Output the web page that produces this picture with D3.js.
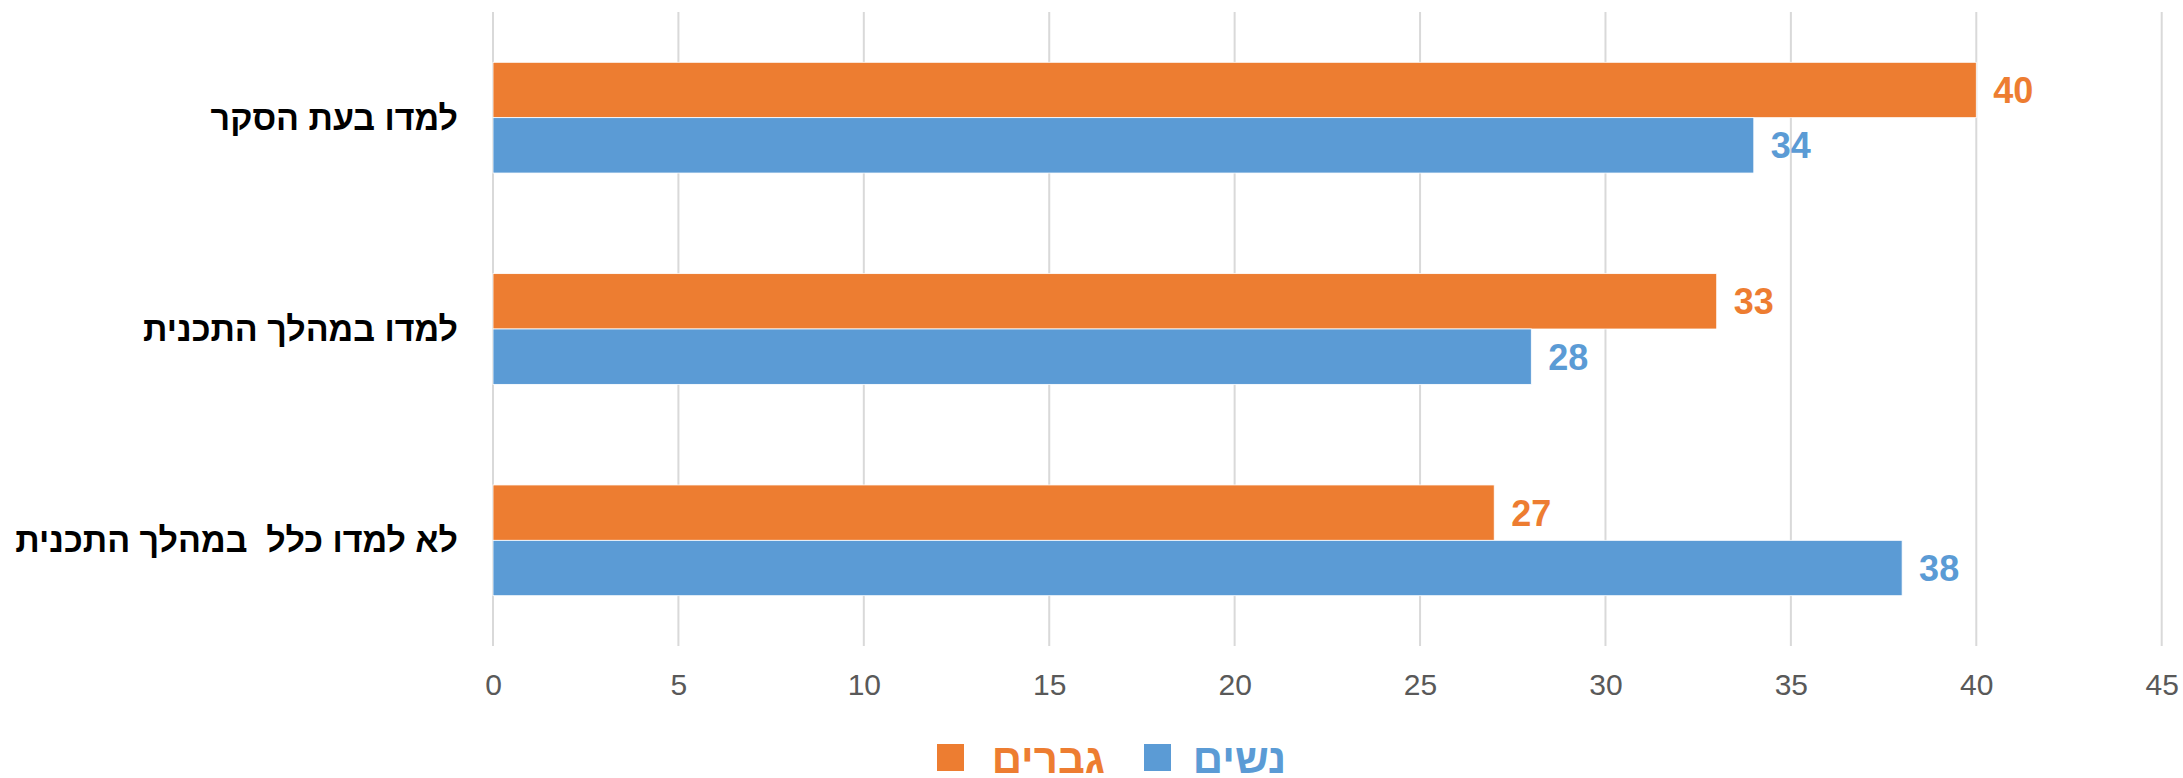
<!DOCTYPE html>
<html><head><meta charset="utf-8">
<script src="https://cdn.jsdelivr.net/npm/d3@7"></script>
<style>body{margin:0;background:#fff}svg{display:block}</style>
</head><body>
<svg id="c" width="2183" height="778"></svg>
<script>
const categories = ["למדו בעת הסקר", "למדו במהלך התכנית", "לא למדו כלל  במהלך התכנית"];
const seriesNames = ["גברים", "נשים"];
const men = [40, 33, 27];
const women = [34, 28, 38];
const xTicks = [0, 5, 10, 15, 20, 25, 30, 35, 40, 45];
const colors = ["#ED7D31", "#5B9BD5"];

const svg = d3.select("#c");
const font = "'Liberation Sans', Arial, sans-serif";
const x = d3.scaleLinear().domain([0, 45]).range([493, 2161.7]);
const y = d3.scaleBand().domain(categories).range([12, 646]).paddingInner(0.476).paddingOuter(0.238);
const sub = d3.scaleBand().domain(seriesNames).range([0, y.bandwidth()]);
const values = [men, women];

// gridlines
svg.append("g").selectAll("line").data(xTicks).join("line")
  .attr("x1", d => x(d)).attr("x2", d => x(d)).attr("y1", 12).attr("y2", 646)
  .attr("stroke", "#d9d9d9").attr("stroke-width", 2);

// axis labels
const ax = svg.append("g").attr("transform", "translate(0,695)")
  .call(d3.axisBottom(x).tickValues(xTicks).tickSize(0).tickPadding(0).tickFormat(d3.format("d")));
ax.select(".domain").remove();
ax.selectAll("text").attr("font-family", font).attr("font-size", 30).attr("fill", "#595959").attr("dy", 0);

// bars
seriesNames.forEach((s, si) => {
  const g = svg.append("g");
  g.selectAll("rect").data(categories).join("rect")
    .attr("x", x(0)).attr("y", c => y(c) + sub(s))
    .attr("width", (c, i) => x(values[si][i]) - x(0))
    .attr("height", sub.bandwidth())
    .attr("fill", colors[si]).attr("stroke", "#fff").attr("stroke-width", 0.8);
  g.selectAll("text").data(categories).join("text")
    .attr("x", (c, i) => x(values[si][i]) + 17)
    .attr("y", c => y(c) + sub(s) + sub.bandwidth() / 2 + 13)
    .attr("font-family", font).attr("font-weight", "bold").attr("font-size", 36)
    .attr("fill", colors[si])
    .text((c, i) => values[si][i]);
});

// category labels
svg.append("g").selectAll("text").data(categories).join("text")
  .attr("x", 458).attr("y", c => y(c) + y.bandwidth() / 2 + 12)
  .attr("text-anchor", "end")
  .style("white-space", "pre")
  .attr("font-family", font).attr("font-weight", "bold").attr("font-size", 34)
  .attr("fill", "#000").text(d => d);

// legend
const legendItems = [
  {name: seriesNames[0], color: colors[0], sx: 937, tx: 1105},
  {name: seriesNames[1], color: colors[1], sx: 1144, tx: 1286}
];
const lg = svg.append("g");
legendItems.forEach(it => {
  lg.append("rect").attr("x", it.sx).attr("y", 744).attr("width", 27).attr("height", 27).attr("fill", it.color);
  lg.append("text").attr("x", it.tx).attr("y", 773).attr("text-anchor", "end")
    .attr("font-family", font).attr("font-weight", "bold").attr("font-size", 42)
    .attr("fill", it.color).text(it.name);
});
</script>
</body></html>
